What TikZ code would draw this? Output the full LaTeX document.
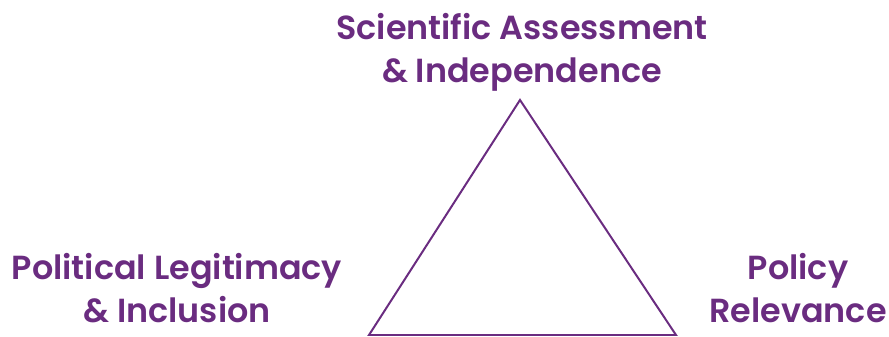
\documentclass[tikz,border=0pt]{standalone}
\usepackage{fontspec}
\setmainfont{Poppins}[BoldFont={Poppins SemiBold}]
\definecolor{plumText}{HTML}{6A2C80}

\begin{document}
\begin{tikzpicture}[x=0.03cm, y=0.03cm, color=plumText,
    corner/.style={font=\fontsize{28.5}{36.5}\selectfont\bfseries, align=center, inner sep=0pt}]

    \useasboundingbox (0,0) rectangle (889,337);

    % the three corners of the triangle
    \coordinate (apex) at (520,237);
    \coordinate (baseL) at (369,2);
    \coordinate (baseR) at (676,2);
    \draw[line width=1.7pt, line join=miter] (apex) -- (baseL) -- (baseR) -- cycle;

    % labels
    \node[corner] (sci) at (522,285) {Scientific Assessment\\\& Independence};
    \node[corner] (pol) at (177,49) {Political Legitimacy\\\& Inclusion};
    \node[corner] (rel) at (798,49) {Policy\\Relevance};

\end{tikzpicture}
\end{document}
